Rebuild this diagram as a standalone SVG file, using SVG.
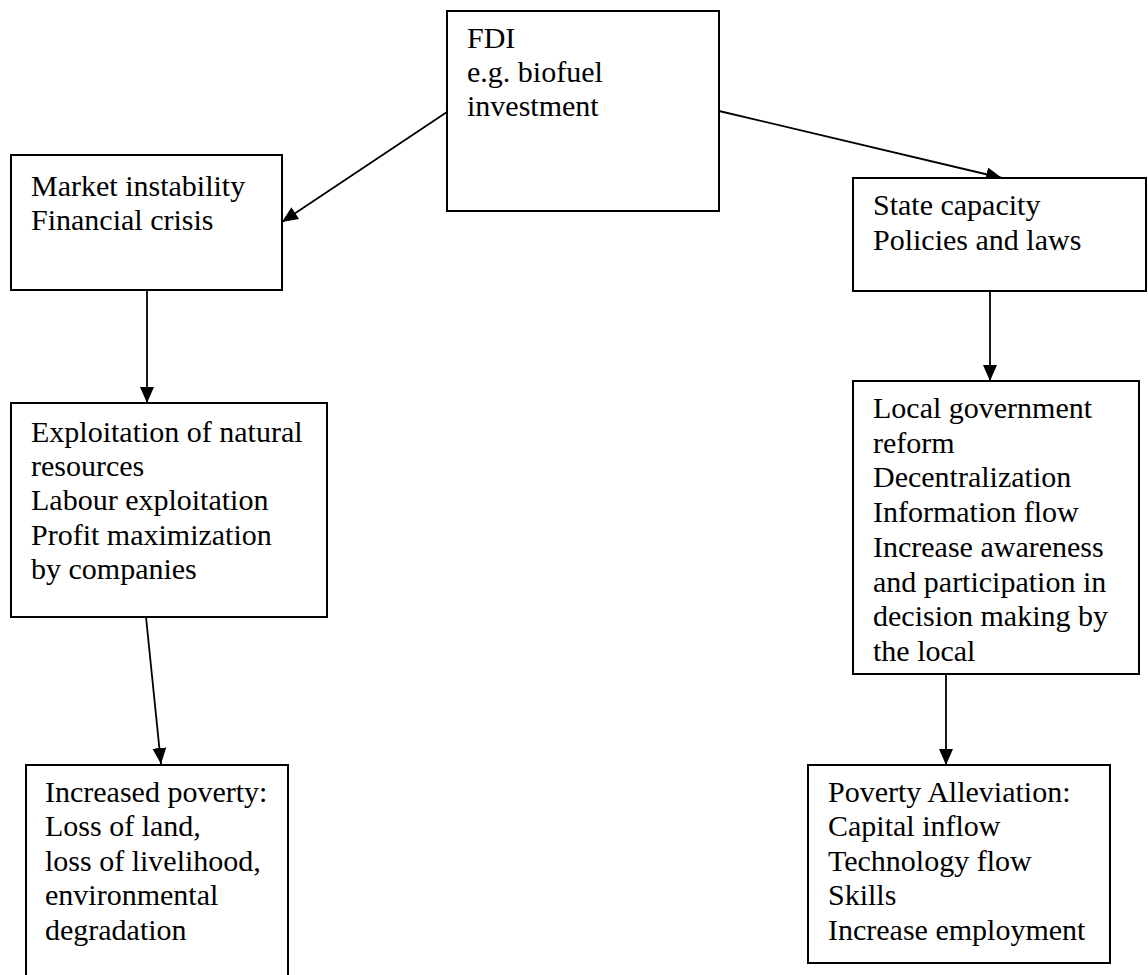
<svg xmlns="http://www.w3.org/2000/svg" width="1148" height="975" viewBox="0 0 1148 975">
<defs>
<marker id="arr" markerUnits="userSpaceOnUse" markerWidth="17" markerHeight="15" refX="16" refY="7" orient="auto">
<path d="M0,0 L16,7 L0,14 Z" fill="#000"/>
</marker>
<style>
.box{fill:#fff;stroke:#000;stroke-width:2}
.t{font-family:"Liberation Serif","Times New Roman",serif;font-size:30px;fill:#000}
.c{stroke:#000;stroke-width:1.8;fill:none}
</style>
</defs>
<rect width="1148" height="975" fill="#fff"/>
<g id="connectors">
<line class="c" x1="447" y1="112" x2="282" y2="222" marker-end="url(#arr)"/>
<line class="c" x1="719" y1="111" x2="1002" y2="178" marker-end="url(#arr)"/>
<line class="c" x1="147" y1="290" x2="147" y2="403" marker-end="url(#arr)"/>
<line class="c" x1="146" y1="617" x2="161" y2="764" marker-end="url(#arr)"/>
<line class="c" x1="990" y1="291" x2="990" y2="381" marker-end="url(#arr)"/>
<line class="c" x1="946" y1="674" x2="946" y2="765" marker-end="url(#arr)"/>
</g>
<g id="fdi">
<rect class="box" x="447" y="11" width="272" height="200"/>
<text class="t" x="467" y="48">FDI</text>
<text class="t" x="467" y="82">e.g. biofuel</text>
<text class="t" x="467" y="116">investment</text>
</g>
<g id="market">
<rect class="box" x="11" y="155" width="271" height="135"/>
<text class="t" x="31" y="196">Market instability</text>
<text class="t" x="31" y="230">Financial crisis</text>
</g>
<g id="state">
<rect class="box" x="853" y="178" width="293" height="113"/>
<text class="t" x="873" y="215">State capacity</text>
<text class="t" x="873" y="250">Policies and laws</text>
</g>
<g id="exploitation">
<rect class="box" x="11" y="403" width="316" height="214"/>
<text class="t" x="31" y="442">Exploitation of natural</text>
<text class="t" x="31" y="476">resources</text>
<text class="t" x="31" y="510">Labour exploitation</text>
<text class="t" x="31" y="545">Profit maximization</text>
<text class="t" x="31" y="579">by companies</text>
</g>
<g id="local">
<rect class="box" x="853" y="381" width="286" height="293"/>
<text class="t" x="873" y="418">Local government</text>
<text class="t" x="873" y="453">reform</text>
<text class="t" x="873" y="487">Decentralization</text>
<text class="t" x="873" y="522">Information flow</text>
<text class="t" x="873" y="557">Increase awareness</text>
<text class="t" x="873" y="592">and participation in</text>
<text class="t" x="873" y="626">decision making by</text>
<text class="t" x="873" y="661">the local</text>
</g>
<g id="increased-poverty">
<rect class="box" x="26" y="765" width="262" height="220"/>
<text class="t" x="45" y="802">Increased poverty:</text>
<text class="t" x="45" y="836">Loss of land,</text>
<text class="t" x="45" y="871">loss of livelihood,</text>
<text class="t" x="45" y="905">environmental</text>
<text class="t" x="45" y="940">degradation</text>
</g>
<g id="poverty-alleviation">
<rect class="box" x="808" y="765" width="302" height="198"/>
<text class="t" x="828" y="802">Poverty Alleviation:</text>
<text class="t" x="828" y="836">Capital inflow</text>
<text class="t" x="828" y="871">Technology flow</text>
<text class="t" x="828" y="905">Skills</text>
<text class="t" x="828" y="940">Increase employment</text>
</g>
</svg>
